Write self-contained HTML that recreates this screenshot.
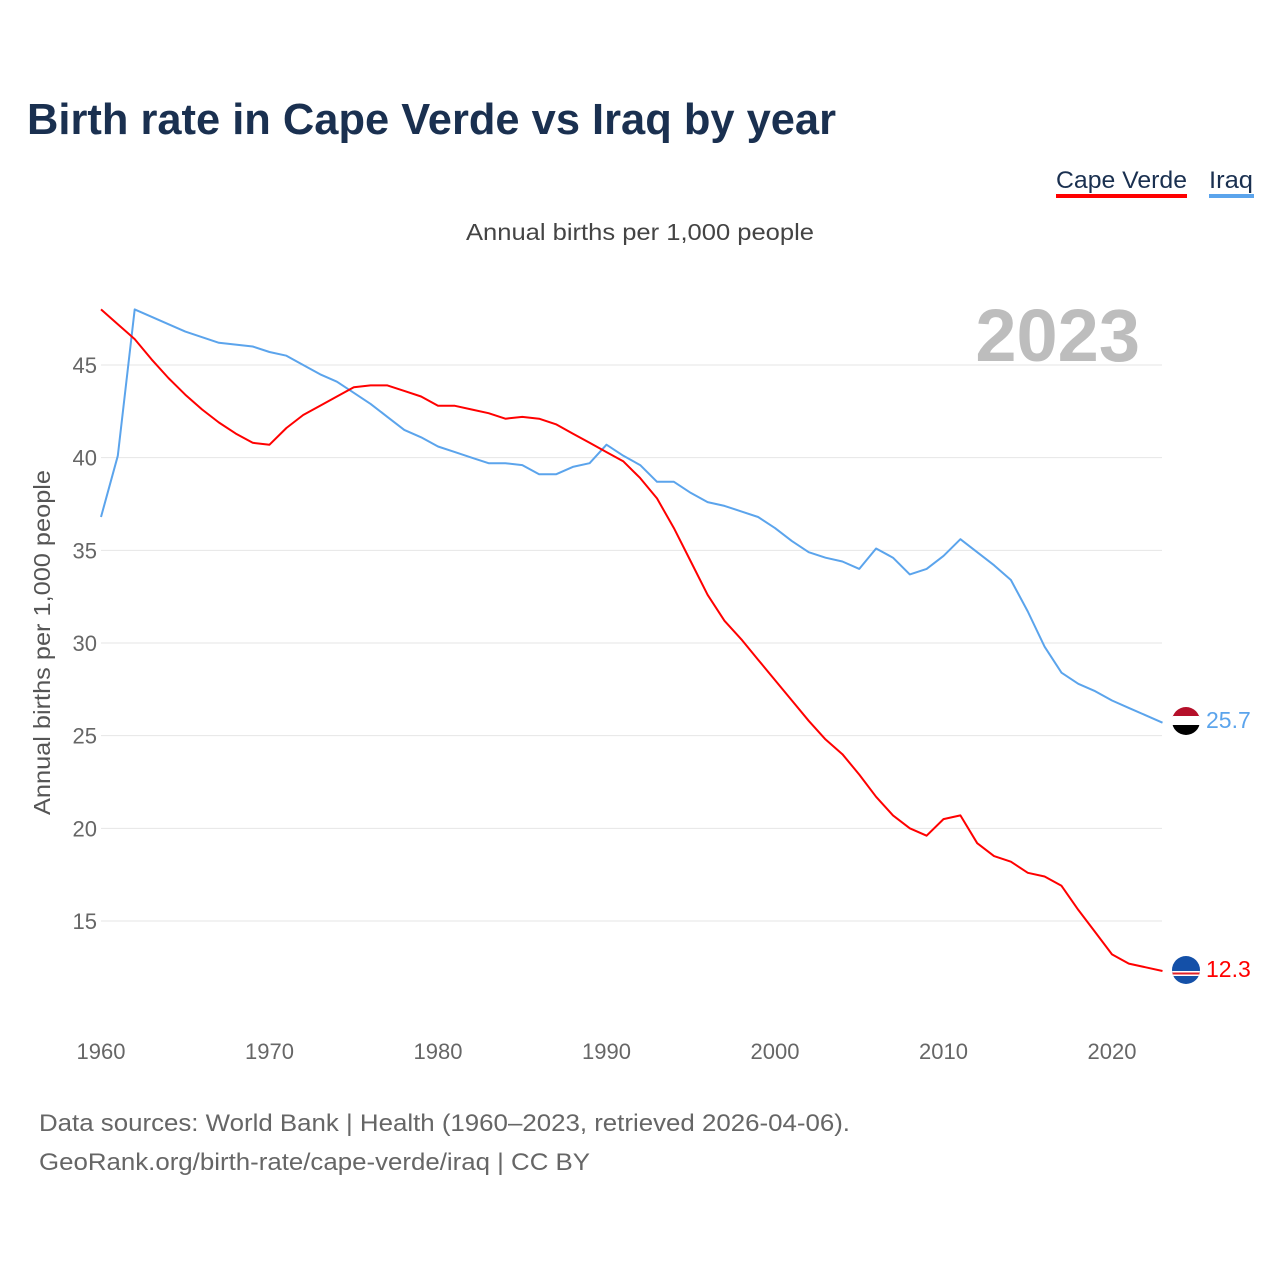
<!DOCTYPE html>
<html><head><meta charset="utf-8">
<style>
body{margin:0;background:#fff;font-family:"Liberation Sans",sans-serif;}
svg text{font-family:"Liberation Sans",sans-serif;}
</style></head>
<body>
<svg id="chart" width="1280" height="1280" xmlns="http://www.w3.org/2000/svg">
<rect width="1280" height="1280" fill="#fff"/>
<text x="27" y="134" font-size="44" font-weight="bold" fill="#1a3050" textLength="809" lengthAdjust="spacingAndGlyphs">Birth rate in Cape Verde vs Iraq by year</text>
<g>
<text x="1056" y="188" font-size="24" fill="#1a3050" textLength="131" lengthAdjust="spacingAndGlyphs">Cape Verde</text>
<rect x="1056" y="194" width="131" height="4" fill="#ff0000"/>
<text x="1209" y="188" font-size="24" fill="#1a3050" textLength="44" lengthAdjust="spacingAndGlyphs">Iraq</text>
<rect x="1209" y="194" width="45" height="4" fill="#5ba4ec"/>
</g>
<text x="466" y="240" font-size="23" fill="#444" textLength="348" lengthAdjust="spacingAndGlyphs">Annual births per 1,000 people</text>
<text x="1140" y="361" font-size="74" font-weight="bold" text-anchor="end" fill="#bdbdbd">2023</text>
<text transform="translate(50,815) rotate(-90)" font-size="23" fill="#555" textLength="345" lengthAdjust="spacingAndGlyphs">Annual births per 1,000 people</text>
<g id="grid"></g><g id="series"></g>
<g>
<clipPath id="cI"><circle cx="1186" cy="721" r="14"/></clipPath>
<g clip-path="url(#cI)"><rect x="1172" y="707" width="28" height="10" fill="#b5102a"/><rect x="1172" y="716" width="28" height="10" fill="#fff"/><rect x="1172" y="725" width="28" height="10" fill="#000"/></g>
</g>
<g>
<clipPath id="cC"><circle cx="1186" cy="970" r="14"/></clipPath>
<g clip-path="url(#cC)"><rect x="1172" y="956" width="28" height="28" fill="#1450a8"/><rect x="1172" y="971" width="28" height="5" fill="#fff"/><rect x="1172" y="972.5" width="28" height="2" fill="#e0202a"/></g>
</g>
<text x="1206" y="728" font-size="23" fill="#5ba4ec">25.7</text>
<text x="1206" y="977" font-size="23" fill="#ff0000">12.3</text>
<text x="39" y="1131" font-size="24" fill="#666" textLength="811" lengthAdjust="spacingAndGlyphs">Data sources: World Bank | Health (1960–2023, retrieved 2026-04-06).</text>
<text x="39" y="1170" font-size="24" fill="#666" textLength="551" lengthAdjust="spacingAndGlyphs">GeoRank.org/birth-rate/cape-verde/iraq | CC BY</text>
</svg>
<script>
const years=[];for(let y=1960;y<=2023;y++)years.push(y);
const capeVerde=[48.0,47.2,46.4,45.3,44.3,43.4,42.6,41.9,41.3,40.8,40.7,41.6,42.3,42.8,43.3,43.8,43.9,43.9,43.6,43.3,42.8,42.8,42.6,42.4,42.1,42.2,42.1,41.8,41.3,40.8,40.3,39.8,38.9,37.8,36.2,34.4,32.6,31.2,30.2,29.1,28.0,26.9,25.8,24.8,24.0,22.9,21.7,20.7,20.0,19.6,20.5,20.7,19.2,18.5,18.2,17.6,17.4,16.9,15.6,14.4,13.2,12.7,12.5,12.3];
const iraq=[36.8,40.1,48.0,47.6,47.2,46.8,46.5,46.2,46.1,46.0,45.7,45.5,45.0,44.5,44.1,43.5,42.9,42.2,41.5,41.1,40.6,40.3,40.0,39.7,39.7,39.6,39.1,39.1,39.5,39.7,40.7,40.1,39.6,38.7,38.7,38.1,37.6,37.4,37.1,36.8,36.2,35.5,34.9,34.6,34.4,34.0,35.1,34.6,33.7,34.0,34.7,35.6,34.9,34.2,33.4,31.7,29.8,28.4,27.8,27.4,26.9,26.5,26.1,25.7];
const yTicks=[15,20,25,30,35,40,45];
const xTicks=[1960,1970,1980,1990,2000,2010,2020];
const NS="http://www.w3.org/2000/svg";
const x=v=>101+(v-1960)*(1112-101)/60;
const y=v=>365+(45-v)*(921-365)/30;
const grid=document.getElementById('grid'),ser=document.getElementById('series');
function mk(t,a,p){const e=document.createElementNS(NS,t);for(const k in a)e.setAttribute(k,a[k]);p.appendChild(e);return e;}
yTicks.forEach(t=>{
 const l=mk('line',{x1:101,x2:1162,y1:y(t),y2:y(t),stroke:'#e6e6e6','stroke-width':1},grid);
 
 
 const tx=mk('text',{x:97,y:y(t)+8,'font-size':22,'text-anchor':'end',fill:'#666'},grid);
 tx.textContent=t;
 
 
});
xTicks.forEach(t=>{
 const tx=mk('text',{x:x(t),y:1059,'font-size':22,'text-anchor':'middle',fill:'#666'},grid);
 tx.textContent=t;
 
 
});
function line(d,c,n){
 const p=mk('path',{d:d.map((v,i)=>(i?'L':'M')+x(years[i]).toFixed(1)+','+y(v).toFixed(1)).join(''),fill:'none',stroke:c,'stroke-width':2,'stroke-linejoin':'round'},ser);
 
 
}
line(iraq,'#5ba4ec','iraq-line');
line(capeVerde,'#ff0000','cape-verde-line');
</script>
</body></html>
